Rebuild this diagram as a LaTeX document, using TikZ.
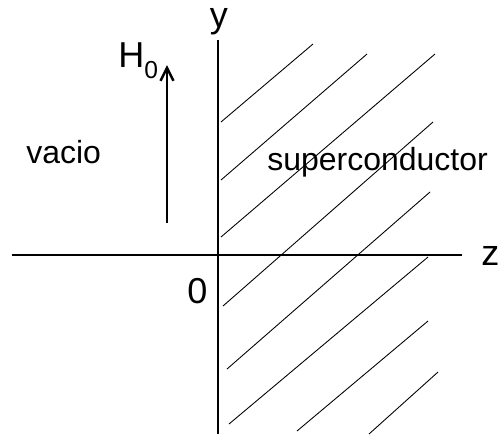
\documentclass[tikz,border=0pt]{standalone}
\usepackage{fontspec}
\setmainfont{Liberation Sans}
\usetikzlibrary{arrows.meta}

\tikzset{
  axis/.style={line width=0.75pt, black},
  hatch/.style={line width=0.5pt, black},
  biglabel/.style={inner sep=0pt, font=\fontsize{20.5}{22}\selectfont},
  regionlabel/.style={inner sep=0pt, font=\fontsize{18.2}{20}\selectfont}
}

\begin{document}
\begin{tikzpicture}
  \useasboundingbox (-4.36,-3.66) rectangle (5.64,5.10);
  % axes
  \coordinate (ytop) at (0,4.30);
  \coordinate (ybot) at (0,-3.58);
  \coordinate (zleft) at (-4.12,0);
  \coordinate (zright) at (4.88,0);
  \draw[axis] (ybot) -- (ytop);
  \draw[axis] (zleft) -- (zright);
  \node[biglabel, anchor=base] (ylabel) at (0.02,4.56) {y};
  \node[biglabel, anchor=base west] (zlabel) at (5.26,-0.20) {z};
  \node[biglabel, anchor=base] (origin) at (-0.41,-0.96) {0};
  % hatch lines
  \foreach \a/\b/\c/\d in {0.06/2.66/1.90/4.22, 0.06/1.50/2.98/4.02,
      0.06/0.36/4.34/4.02, 0.10/-1.02/4.30/2.66, 0.18/-2.28/4.24/1.26,
      0.22/-3.38/4.20/-0.04, 1.58/-3.52/4.20/-1.32, 3.02/-3.58/4.40/-2.34} {
    \draw[hatch] (\a,\b) -- (\c,\d);
  }
  % applied field
  \coordinate (hbot) at (-1.02,0.64);
  \coordinate (htop) at (-1.02,3.80);
  \draw[line width=1.4pt, -{Straight Barb[length=0.26cm, width=0.26cm]}] (hbot) -- (htop);
  \node[biglabel, anchor=base west] (hlabel) at (-2.00,3.76)
    {H\raisebox{-0.22cm}{\fontsize{14}{14}\selectfont 0}};
  % regions
  \node[regionlabel, anchor=base west] (vacio) at (-3.84,1.84) {vacio};
  \node[regionlabel, anchor=base west] (super) at (0.98,1.70) {superconductor};
\end{tikzpicture}
\end{document}
